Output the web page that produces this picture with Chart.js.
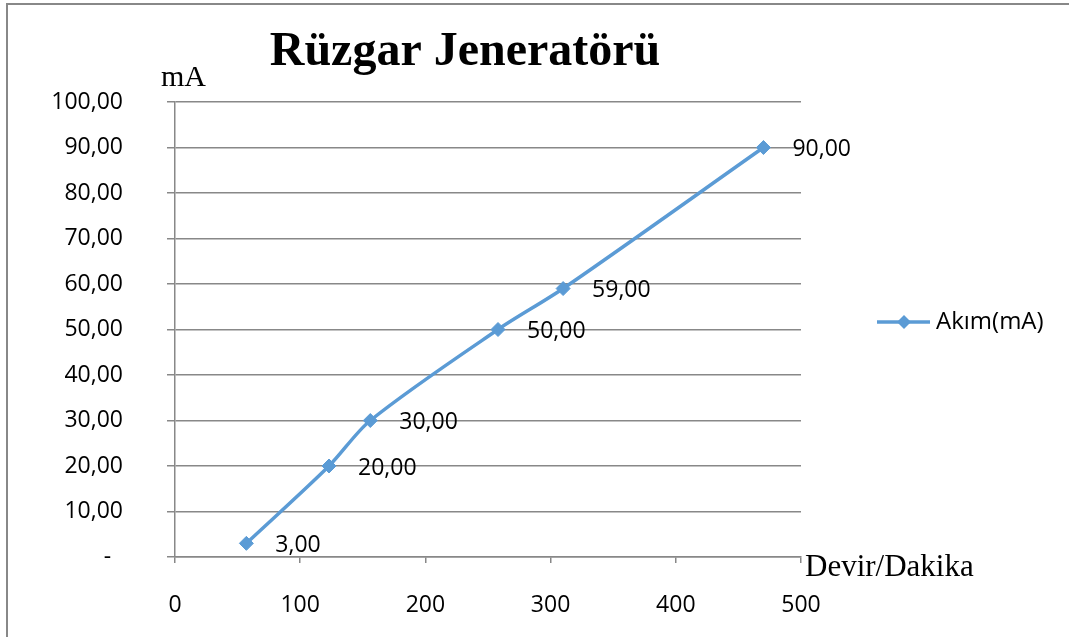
<!DOCTYPE html>
<html lang="tr">
<head>
<meta charset="utf-8">
<title>Rüzgar Jeneratörü</title>
<script src="https://cdn.jsdelivr.net/npm/chart.js@4/dist/chart.umd.min.js"></script>
<style>
    html, body {
        margin: 0;
        padding: 0;
        background: #fff;
        overflow: hidden;
    }
    .frame {
        position: absolute;
        left: 6px;
        top: 3px;
        width: 1200px;
        height: 800px;
        border: 2px solid #888;
    }
    #windChart {
        position: absolute;
        left: 0;
        top: 0;
    }
</style>
</head>
<body>
<div class="frame"></div>
<canvas id="windChart" width="1069" height="637"></canvas>

<script>
// ============== DATA ==============

const seriesName = 'Akım(mA)';
const chartTitle = 'Rüzgar Jeneratörü';
const yAxisTitle = 'mA';
const xAxisTitle = 'Devir/Dakika';

// Devir/Dakika (rpm)
const rpmValues = [57, 123, 156, 258, 310, 470];
// Akım (mA)
const currentValues = [3, 20, 30, 50, 59, 90];

const xTicks = [0, 100, 200, 300, 400, 500];
const yTicks = [0, 10, 20, 30, 40, 50, 60, 70, 80, 90, 100];

const lineColor = '#5B9BD5';
const gridColor = '#888888';
const sansFont = "'Open Sans', 'Noto Sans', sans-serif";
const serifFont = "'Liberation Serif', 'DejaVu Serif', serif";

// Turkish number format: 12,00 and "-" for zero
function formatValue(v) {
    if (v === 0) return '-  ';
    return v.toFixed(2).replace('.', ',');
}

// ============== PLUGIN: titles, value labels, legend ==============

const decorations = {
    id: 'decorations',
    afterDatasetsDraw(chart) {
        const ctx = chart.ctx;
        const area = chart.chartArea;
        const meta = chart.getDatasetMeta(0);

        ctx.save();

        // value labels next to each point
        ctx.font = `23px ${sansFont}`;
        ctx.fillStyle = '#000';
        ctx.textAlign = 'left';
        ctx.textBaseline = 'middle';
        meta.data.forEach((pt, i) => {
            ctx.fillText(formatValue(currentValues[i]), pt.x + 29, pt.y + 2);
        });

        // chart title
        ctx.font = `bold 48px ${serifFont}`;
        ctx.textAlign = 'center';
        ctx.textBaseline = 'alphabetic';
        ctx.fillText(chartTitle, area.left + 290, 65);

        // axis titles
        ctx.font = `30px ${serifFont}`;
        ctx.textAlign = 'left';
        ctx.fillText(yAxisTitle, area.left - 14, area.top - 16);
        ctx.font = `31px ${serifFont}`;
        ctx.fillText(xAxisTitle, area.right + 4, area.bottom + 19);

        // legend entry
        const ly = 322;
        const lx = area.right + 76;
        ctx.strokeStyle = lineColor;
        ctx.lineWidth = 3.5;
        ctx.beginPath();
        ctx.moveTo(lx, ly);
        ctx.lineTo(lx + 53, ly);
        ctx.stroke();
        ctx.fillStyle = lineColor;
        ctx.beginPath();
        ctx.moveTo(lx + 27, ly - 7);
        ctx.lineTo(lx + 34, ly);
        ctx.lineTo(lx + 27, ly + 7);
        ctx.lineTo(lx + 20, ly);
        ctx.closePath();
        ctx.fill();
        ctx.fillStyle = '#000';
        ctx.font = `24px ${sansFont}`;
        ctx.textBaseline = 'middle';
        ctx.fillText(seriesName, lx + 59, ly);

        ctx.restore();
    }
};

// ============== CHART ==============

const ctx = document.getElementById('windChart').getContext('2d');

const windChart = new Chart(ctx, {
    type: 'line',
    data: {
        datasets: [{
            label: seriesName,
            data: rpmValues.map((x, i) => ({ x: x, y: currentValues[i] })),
            borderColor: lineColor,
            backgroundColor: lineColor,
            borderWidth: 3.5,
            tension: 0.3,
            pointStyle: 'rectRot',
            pointRadius: 7,
            pointBackgroundColor: lineColor,
            pointBorderColor: lineColor,
            pointBorderWidth: 1,
            clip: false
        }]
    },
    options: {
        responsive: false,
        animation: false,
        layout: {
            padding: { left: 0, right: 268, top: 102, bottom: 0 }
        },
        plugins: {
            legend: { display: false },
            title: { display: false },
            tooltip: { enabled: false }
        },
        scales: {
            x: {
                type: 'linear',
                min: xTicks[0],
                max: xTicks[xTicks.length - 1],
                afterBuildTicks: (scale) => {
                    scale.ticks = xTicks.map(v => ({ value: v }));
                },
                afterFit: (scale) => { scale.height = 80; },
                grid: {
                    drawOnChartArea: false,
                    drawTicks: true,
                    tickLength: 6,
                    color: gridColor,
                    lineWidth: 1.5
                },
                border: { color: gridColor, width: 1.5 },
                ticks: {
                    padding: 29,
                    color: '#000',
                    font: { family: sansFont, size: 23 }
                }
            },
            y: {
                type: 'linear',
                min: yTicks[0],
                max: yTicks[yTicks.length - 1],
                afterBuildTicks: (scale) => {
                    scale.ticks = yTicks.map(v => ({ value: v }));
                },
                afterFit: (scale) => { scale.width = 175; },
                grid: {
                    drawTicks: true,
                    tickLength: 8,
                    color: gridColor,
                    lineWidth: 1.5
                },
                border: { color: gridColor, width: 1.5 },
                ticks: {
                    padding: 44,
                    color: '#000',
                    font: { family: sansFont, size: 23 },
                    callback: (value) => formatValue(value)
                }
            }
        }
    },
    plugins: [decorations]
});
</script>
</body>
</html>
